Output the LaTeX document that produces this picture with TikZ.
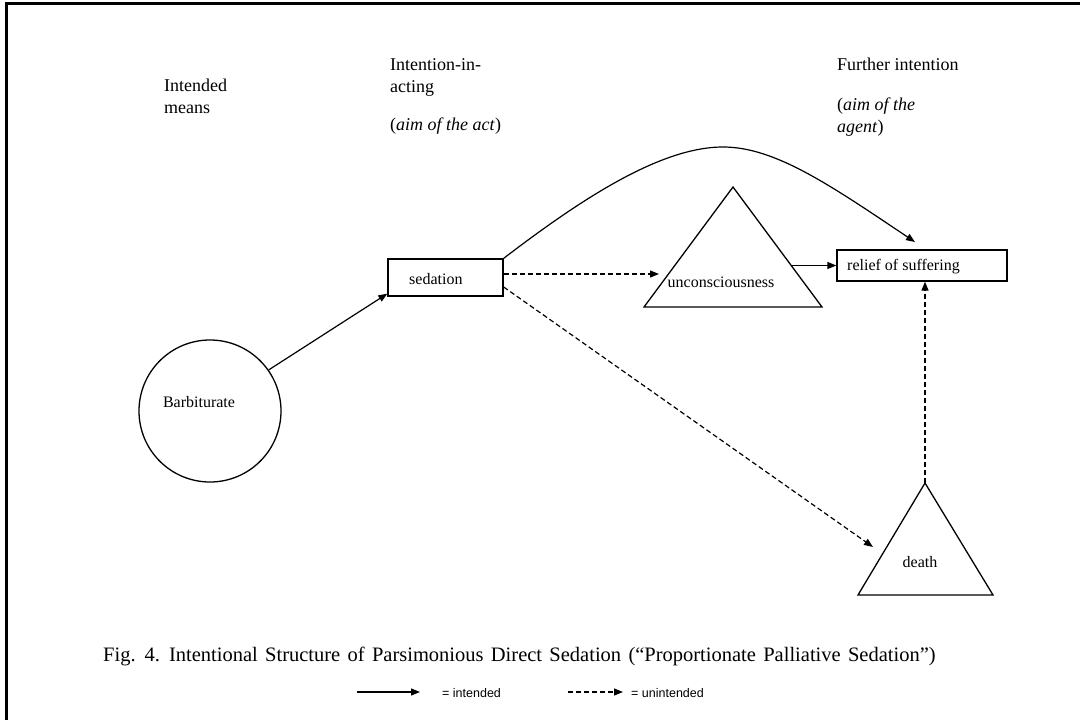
\documentclass[tikz,border=0pt]{standalone}
\usepackage{fontspec}
\setmainfont{Liberation Serif}
\newfontfamily\legendfont{Liberation Sans}
\usetikzlibrary{arrows.meta,calc}
\begin{document}
\begin{tikzpicture}[x=1pt,y=-1pt,
  shapeline/.style={line width=1.3pt},
  conn/.style={line width=1.2pt,-{Triangle[length=9pt,width=7pt]}},
  dconn/.style={conn,dash pattern=on 5pt off 3pt},
  nodetext/.style={inner sep=0pt,font=\fontsize{16}{19}\selectfont},
  headtext/.style={inner sep=0pt,anchor=north west,align=left,font=\fontsize{18}{22}\selectfont},
  legtext/.style={inner sep=0pt,anchor=west,font=\legendfont\fontsize{12.5}{15}\selectfont},
  boxnode/.style={draw,shapeline,inner sep=0pt}
]
\useasboundingbox (0,0) rectangle (1080,720);
% frame
\draw[line width=3pt] (5,3) -- (1080,3);
\draw[line width=3pt] (6,3) -- (6,720);

% headings
\node[headtext] (h1) at (164,79) {Intended\\means};
\node[headtext] (h2) at (390,58) {Intention-in-\\acting};
\node[headtext] (h2b) at (390,118) {(\textit{aim of the act})};
\node[headtext] (h3) at (837,58) {Further intention};
\node[headtext] (h3b) at (837,98) {(\textit{aim of the}\\\textit{agent})};

% barbiturate
\node[draw,shapeline,circle,minimum size=142pt,inner sep=0pt] (bar) at (210,411) {};
\node[nodetext] (bartext) at (199,402) {Barbiturate};

% sedation
\node[boxnode,minimum width=115pt,minimum height=37pt] (sed) at (445.5,277.5) {};
\node[nodetext,anchor=west] (sedtext) at (409,279) {sedation};

% unconsciousness triangle
\coordinate (ua) at (733,187);
\coordinate (ur) at (822,307);
\coordinate (ul) at (644,307);
\draw[shapeline] (ua) -- (ur) -- (ul) -- cycle;
\node[nodetext] (utext) at (721,282) {unconsciousness};
\coordinate (uin) at (659,274);
\coordinate (uout) at (792,265.5);

% relief box
\node[boxnode,minimum width=170pt,minimum height=31pt] (rel) at (922,265.5) {};
\node[nodetext,anchor=west] (reltext) at (847,267) {relief of suffering};

% death triangle
\coordinate (da) at (925,483);
\coordinate (dr) at (993,595);
\coordinate (dl) at (858,595);
\draw[shapeline] (da) -- (dr) -- (dl) -- cycle;
\node[nodetext] (dtext) at (920,562) {death};
\coordinate (din) at (873,547);

% connectors
\draw[conn] (bar.35) -- ([yshift=3pt]sed.south west);
\draw[dconn] ([yshift=3.5pt]sed.east) -- (uin);
\draw[conn] (uout) -- (rel.west);
\draw[dconn] ([yshift=-9.5pt]sed.east) -- (din);
\draw[dconn] (da) -- (da |- rel.south);
\coordinate (peak) at (723,147);
\coordinate (ctip) at (915,242);
\draw[conn] (sed.north east) .. controls (580,200) and (660,147) .. (peak)
   .. controls (775,147) and (830,185) .. (ctip);

% caption
\node[inner sep=0pt,anchor=west,font=\fontsize{20.5}{24}\selectfont] (cap) at (103,656)
  {\spaceskip=7.3pt plus 1pt Fig. 4. Intentional Structure of Parsimonious Direct Sedation (``Proportionate Palliative Sedation'')};

% legend
\coordinate (l1a) at (357,692);
\coordinate (l1b) at (420,692);
\draw[conn] (l1a) -- (l1b);
\node[legtext] (leg1) at (442,693) {= intended};
\coordinate (l2a) at (568,692);
\coordinate (l2b) at (623,692);
\draw[dconn] (l2a) -- (l2b);
\node[legtext] (leg2) at (631,693) {= unintended};
\end{tikzpicture}
\end{document}
